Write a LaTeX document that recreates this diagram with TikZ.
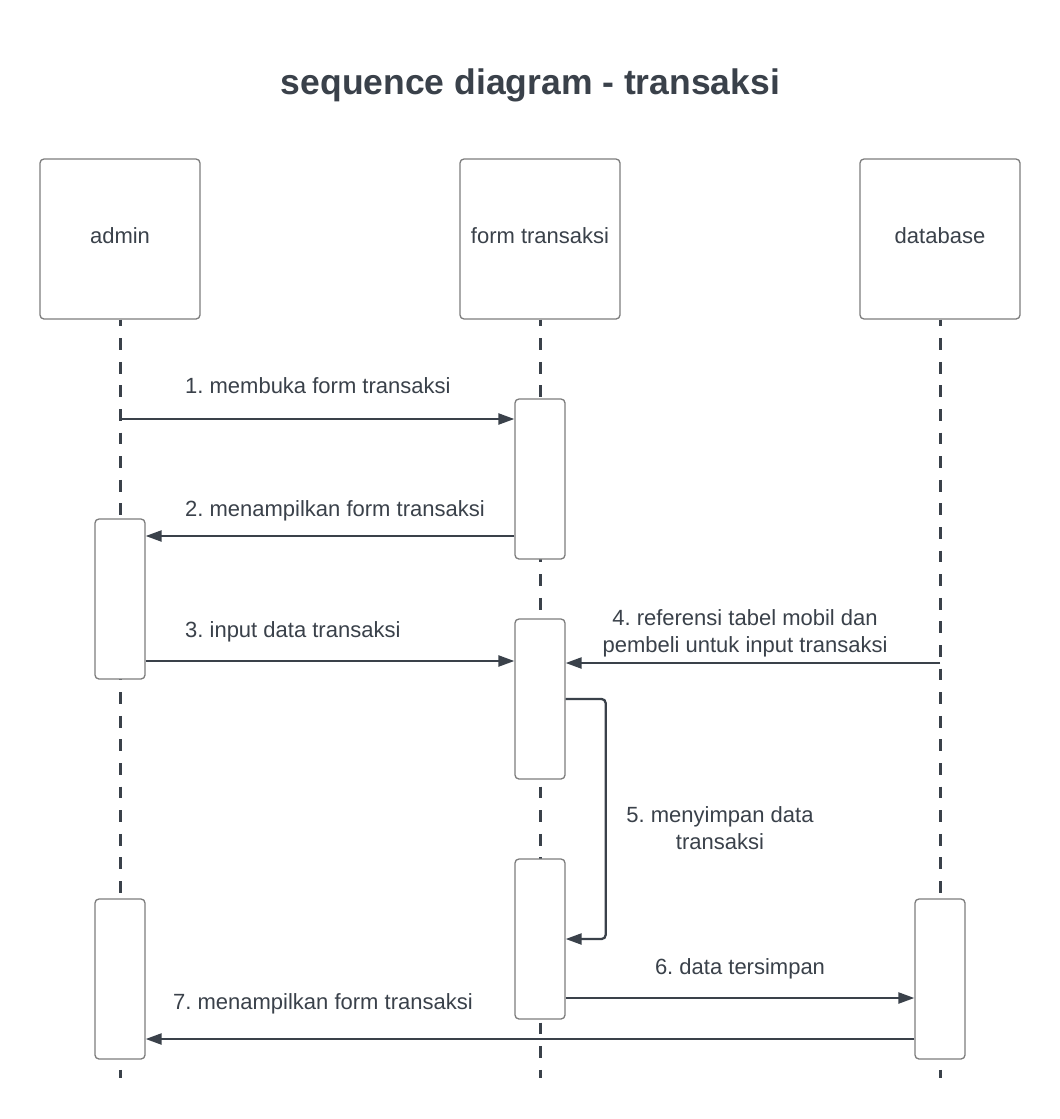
\documentclass[tikz,border=0pt]{standalone}
\usepackage{fontspec}
\setmainfont{Liberation Sans}
\usetikzlibrary{arrows.meta}
\definecolor{ink}{HTML}{3A414A}
\definecolor{rim}{HTML}{7D7D7D}
\frenchspacing

\begin{document}
\begin{tikzpicture}[x=1pt,y=-1pt,
    head/.style={draw=rim, line width=1.3pt, fill=white, rounded corners=4pt, minimum width=160pt, minimum height=160pt, inner sep=0pt, text=ink, font=\fontsize{22}{26}\selectfont, text height=16pt, text depth=8pt},
    act/.style={draw=rim, line width=1.3pt, fill=white, rounded corners=4pt, minimum width=50pt, minimum height=160pt, inner sep=0pt},
    life/.style={ink, line width=3pt, dash pattern=on 11.8pt off 11.8pt, dash phase=5pt},
    msg/.style={ink, line width=2.3pt, -{Triangle[length=16pt,width=11pt]}},
    lbl/.style={text=ink, font=\fontsize{22}{27}\selectfont, inner sep=0pt, align=center}]
    \useasboundingbox[fill=white] (0,0) rectangle (1060,1119);

    %title
    \node[text=ink, font=\bfseries\fontsize{35.5}{42}\selectfont, anchor=base, inner sep=0pt] (title) at (530.5,94) {sequence diagram - transaksi};

    %heads and lifelines
    \node[head] (admin) at (120,239) {admin};
    \node[head] (form) at (540,239) {form transaksi};
    \node[head] (database) at (940,239) {database};
    \coordinate (admin-end) at (120,1078);
    \coordinate (form-end) at (540,1078);
    \coordinate (database-end) at (940,1078);
    \draw[life] (admin.south) -- (admin-end);
    \draw[life] (form.south) -- (form-end);
    \draw[life] (database.south) -- (database-end);

    %activations
    \node[act] (aa1) at (120,599) {};
    \node[act] (aa2) at (120,979) {};
    \node[act] (fa1) at (540,479) {};
    \node[act] (fa2) at (540,699) {};
    \node[act] (fa3) at (540,939) {};
    \node[act] (da1) at (940,979) {};

    %messages
    \draw[msg] (admin |- 0,419) -- (fa1.west |- 0,419);
    \node[lbl, anchor=base west] (m1) at (185,393) {1. membuka form transaksi};
    \draw[msg] (fa1.west |- 0,536) -- (aa1.east |- 0,536);
    \node[lbl, anchor=base west] (m2) at (185,516) {2. menampilkan form transaksi};
    \draw[msg] (aa1.east |- 0,661) -- (fa2.west |- 0,661);
    \node[lbl, anchor=base west] (m3) at (185,637) {3. input data transaksi};
    \draw[msg] (database |- 0,663) -- (fa2.east |- 0,663);
    \node[lbl, anchor=base] (m4) at (745,652) {4. referensi tabel mobil dan\\pembeli untuk input transaksi};
    \draw[msg, rounded corners=4pt] (fa2.east |- 0,699) -- ++(40,0) |- (fa3.east |- 0,939);
    \node[lbl, anchor=base] (m5) at (720,849) {5. menyimpan data\\transaksi};
    \draw[msg] (fa3.east |- 0,998) -- (da1.west |- 0,998);
    \node[lbl, anchor=base] (m6) at (740,974) {6. data tersimpan};
    \draw[msg] (da1.west |- 0,1039) -- (aa2.east |- 0,1039);
    \node[lbl, anchor=base west] (m7) at (173,1009) {7. menampilkan form transaksi};
\end{tikzpicture}
\end{document}
